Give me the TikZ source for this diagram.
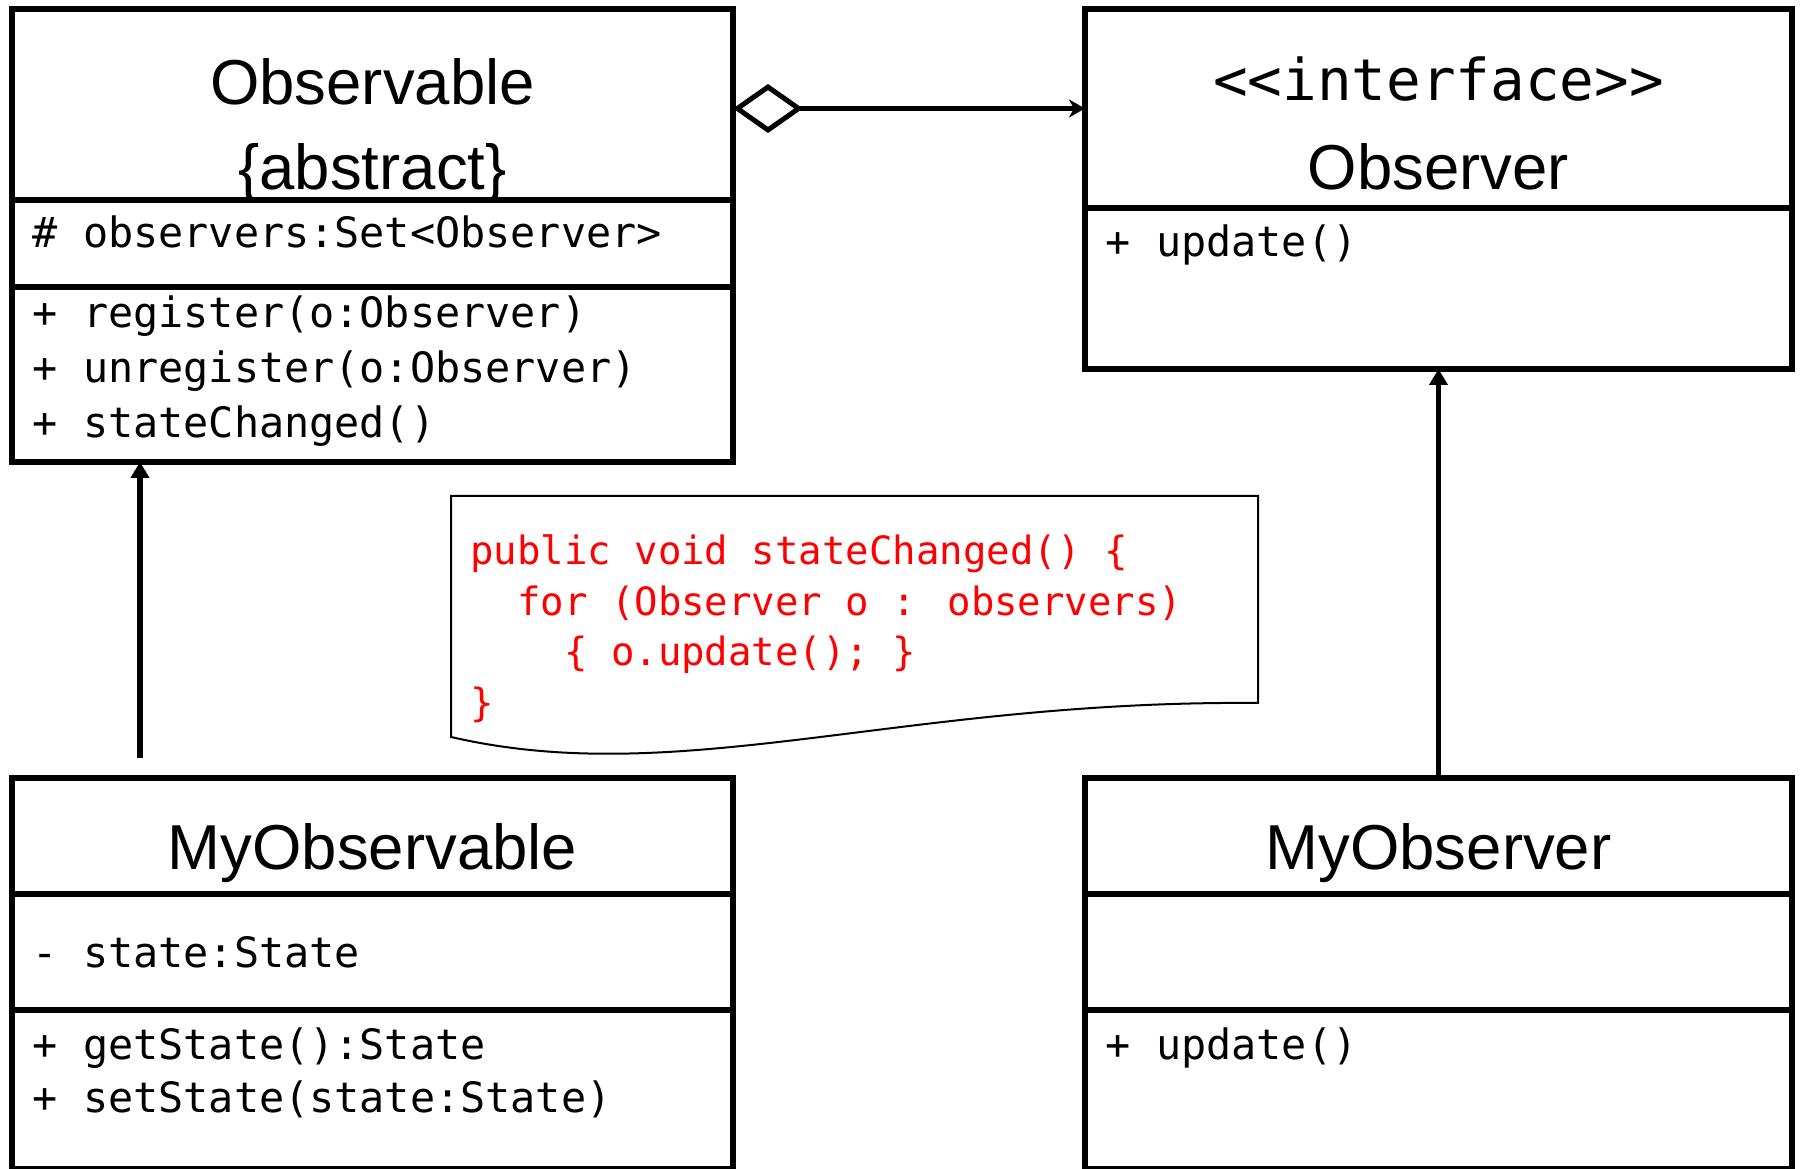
\documentclass[tikz,border=0pt]{standalone}
\usepackage{fontspec}
\setmainfont{Liberation Sans}
\newfontfamily\codefont{DejaVu Sans Mono}
\usetikzlibrary{positioning,arrows.meta}

\tikzset{
  compart/.style={draw, rectangle, line width=0.55mm, inner sep=0pt, outer sep=0pt},
  classname/.style={font=\fontsize{6.35mm}{7.6mm}\selectfont, inner sep=0pt, anchor=base},
  member/.style={font=\codefont\fontsize{4.18mm}{5.5mm}\selectfont, inner sep=0pt, anchor=base west},
  codeline/.style={font=\codefont\fontsize{3.9mm}{5mm}\selectfont, text=red, inner sep=0pt, anchor=base west},
  inherit/.style={line width=0.55mm, -{Triangle[length=1.6mm,width=1.8mm]}},
  aggreg/.style={line width=0.5mm, {Diamond[fill=white,length=7mm,width=4.9mm]}-{Stealth[length=1.6mm,width=1.8mm,inset=0.5mm]}}
}

\begin{document}
\begin{tikzpicture}[x=0.1mm,y=-0.1mm]
  \useasboundingbox (0,0) rectangle (1801,1169);
  \clip (0,0) rectangle (1801,1169);

  % Observable
  \node[compart, minimum width=72.1mm, minimum height=19.1mm, anchor=north west] (obs) at (12,9) {};
  \node[compart, minimum width=72.1mm, minimum height=8.7mm, below=0pt of obs] (obsattr) {};
  \node[compart, minimum width=72.1mm, minimum height=17.5mm, below=0pt of obsattr] (obsops) {};
  \node[classname] (obsname) at ([yshift=-9.55mm]obs.north) {Observable};
  \node[classname] (obsabs) at ([yshift=-18.05mm]obs.north) {\{abstract\}};
  \node[member] (obsset) at ([shift={(20,48)}]obsattr.north west) {\# observers:Set<Observer>};
  \foreach \op [count=\i] in {register(o:Observer), unregister(o:Observer), stateChanged()}
    \node[member] (obsop\i) at ([shift={(20,{41+55*(\i-1)})}]obsops.north west) {+ \op};

  % Observer
  \node[compart, minimum width=70.7mm, minimum height=19.9mm, anchor=north west] (iface) at (1085,9) {};
  \node[compart, minimum width=70.7mm, minimum height=16.1mm, below=0pt of iface] (ifaceops) {};
  \node[member, anchor=base, font=\codefont\fontsize{5.76mm}{7mm}\selectfont] (ifacetag) at ([yshift=-9.2mm]iface.north) {\textless\textless interface\textgreater\textgreater};
  \node[classname] (ifacename) at ([yshift=-18.05mm]iface.north) {Observer};
  \node[member] (ifaceop) at ([shift={(20,49)}]ifaceops.north west) {+ update()};

  % MyObservable
  \node[compart, minimum width=72.1mm, minimum height=11.6mm, anchor=north west] (myobl) at (12,778) {};
  \node[compart, minimum width=72.1mm, minimum height=11.6mm, below=0pt of myobl] (myoblattr) {};
  \node[compart, minimum width=72.1mm, minimum height=15.9mm, below=0pt of myoblattr] (myoblops) {};
  \node[classname] (myoblname) at ([yshift=-9.15mm]myobl.north) {MyObservable};
  \node[member] (myoblstate) at ([shift={(20,74)}]myoblattr.north west) {- state:State};
  \foreach \op [count=\i] in {getState():State, setState(state:State)}
    \node[member] (myoblop\i) at ([shift={(20,{50+53*(\i-1)})}]myoblops.north west) {+ \op};

  % MyObserver
  \node[compart, minimum width=70.7mm, minimum height=11.6mm, anchor=north west] (myobs) at (1085,778) {};
  \node[compart, minimum width=70.7mm, minimum height=11.6mm, below=0pt of myobs] (myobsattr) {};
  \node[compart, minimum width=70.7mm, minimum height=15.9mm, below=0pt of myobsattr] (myobsops) {};
  \node[classname] (myobsname) at ([yshift=-9.15mm]myobs.north) {MyObserver};
  \node[member] (myobsop) at ([shift={(20,50)}]myobsops.north west) {+ update()};

  % note with the body of stateChanged
  \coordinate (notetl) at (451,496);
  \draw[line width=0.2mm] (notetl) -- (1258,496) -- (1258,703) .. controls (900,700) and (680,790) .. (451,737) -- cycle;
  \foreach \ln [count=\i] in {{public void stateChanged() \{}, {~~for (Observer o : observers)}, {~~~~\{ o.update(); \}}, \}}
    \node[codeline] (code\i) at ([shift={(18.5,{69+50.5*(\i-1)})}]notetl) {\ln};

  % connectors
  \draw[aggreg] (obs.east |- iface.west) -- (iface.west);
  \coordinate (stub) at (140,758);
  \draw[inherit] (stub) -- (stub |- obsops.south);
  \draw[inherit] (myobs.north) -- (ifaceops.south);
\end{tikzpicture}
\end{document}
